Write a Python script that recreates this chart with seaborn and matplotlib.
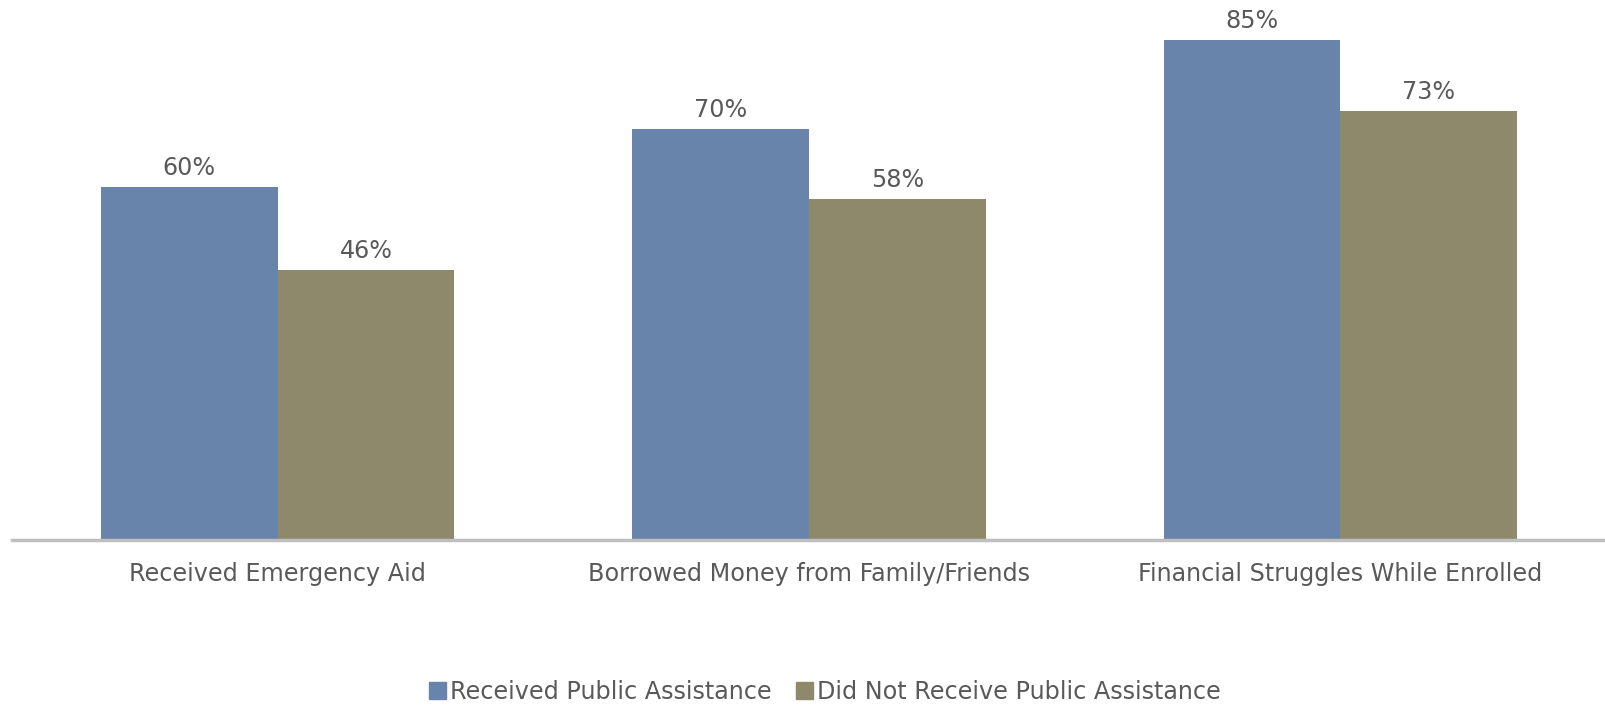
import matplotlib
matplotlib.use("Agg")
import matplotlib.pyplot as plt
import seaborn as sns
import pandas as pd

categories = ["Received Emergency Aid", "Borrowed Money from Family/Friends",
              "Financial Struggles While Enrolled"]
received = [60, 70, 85]
not_received = [46, 58, 73]
series_names = ["Received Public Assistance", "Did Not Receive Public Assistance"]
colors = ["#6984AA", "#8E896B"]

df = pd.DataFrame({
    "category": categories * 2,
    "value": received + not_received,
    "group": [series_names[0]] * 3 + [series_names[1]] * 3,
})

sns.set_theme(style="white")
plt.rcParams["font.family"] = ["DejaVu Sans"]
text_color = "#595959"
fs = 17.2

fig = plt.figure(figsize=(16.06, 7.06), dpi=100)
ax = fig.add_axes([12 / 1606, 166 / 706, 1 - 12 / 1606, 529 / 706])

sns.barplot(data=df, x="category", y="value", hue="group", order=categories,
            hue_order=series_names, palette=colors, width=0.665, saturation=1,
            errorbar=None, ax=ax, legend=False, linewidth=0)

for container in ax.containers:
    ax.bar_label(container, labels=[f"{v:.0f}%" for v in container.datavalues],
                 padding=5, fontsize=fs, color=text_color)

ax.set_xlim(-0.5, 2.5)
ax.set_ylim(0, 90)
ax.set_xlabel("")
ax.set_ylabel("")
ax.set_yticks([])
ax.tick_params(axis="x", length=0, pad=16, labelsize=fs, labelcolor=text_color)
for side in ["top", "right", "left"]:
    ax.spines[side].set_visible(False)
ax.spines["bottom"].set_color("#BFBFBF")
ax.spines["bottom"].set_linewidth(2.5)

handles = [plt.Rectangle((0, 0), 1, 1, color=c) for c in colors]
fig.legend(handles, series_names, loc="center", bbox_to_anchor=(825 / 1606, 1 - 692 / 706),
           ncol=2, frameon=False, fontsize=fs, handlelength=0.7, handleheight=0.7,
           handletextpad=0.2, columnspacing=1.0, labelcolor=text_color)

fig.savefig("out.png", dpi=100)
